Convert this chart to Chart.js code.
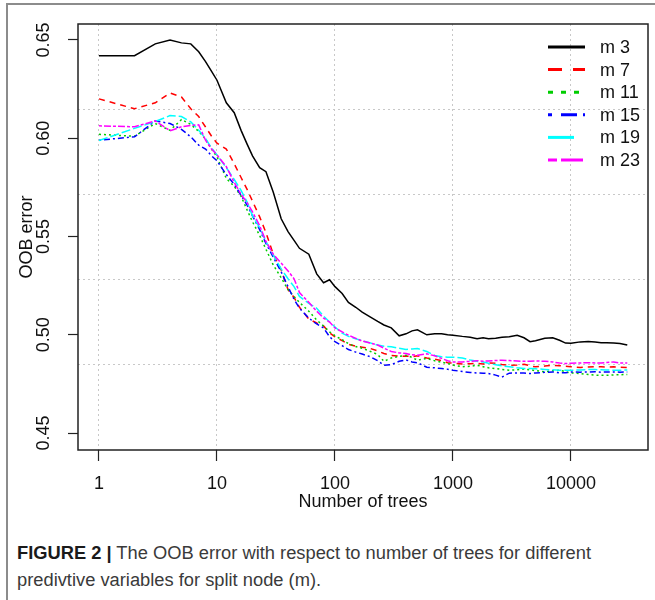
<!DOCTYPE html>
<html>
<head>
<meta charset="utf-8">
<script src="https://cdn.jsdelivr.net/npm/chart.js@4.4.1/dist/chart.umd.min.js"></script>
<style>
  html, body { margin: 0; padding: 0; background: #fff; }
  #page { position: relative; width: 655px; height: 600px; overflow: hidden; background: #fff; }
  #frame { position: absolute; left: 6px; top: 3px; right: -10px; bottom: -10px;
           border-left: 2px solid #8c8c8c; border-top: 2px solid #8c8c8c; }
  #chart { position: absolute; left: 0; top: 0; }
  #caption { position: absolute; left: 17px; top: 540px; font-family: "Liberation Sans", Arial, sans-serif;
             font-size: 18px; line-height: 27px; color: #3a3a3a; white-space: nowrap; transform-origin: 0 0; }
  #caption b { color: #1a1a1a; }
</style>
</head>
<body>
<div id="page">
  <div id="frame"></div>
  <canvas id="chart" width="655" height="520"></canvas>
  <div id="caption">
    <div><span id="capLine1"><b>FIGURE 2 |</b> The OOB error with respect to number of trees for different</span></div>
    <div>predivtive variables for split node (m).</div>
  </div>
</div>
<script>
// number of trees (x), shared by every series
const trees = [1, 2, 3, 4, 5, 6, 7, 8, 9, 10,
  12, 14, 16, 18, 20, 23, 26, 30, 35, 40, 45, 50,
  60, 70, 80, 90, 100, 115, 130, 150, 170, 200, 230, 260, 300, 350, 400, 450, 500,
  600, 700, 800, 900, 1000, 1200, 1400, 1600, 1800, 2000, 2300, 2600, 3000, 3500, 4000, 4500, 5000,
  6000, 7000, 8000, 9000, 10000, 12000, 14000, 16000, 18000, 20000, 23000, 26000, 30000];

// OOB error per m
const m3 = [0.642, 0.642, 0.648, 0.650, 0.6485, 0.648, 0.644, 0.639, 0.634, 0.6295,
  0.618, 0.613, 0.604, 0.597, 0.591, 0.585, 0.583, 0.5725, 0.559, 0.5525, 0.548, 0.544,
  0.541, 0.531, 0.5265, 0.528, 0.5245, 0.521, 0.5165, 0.514, 0.5115, 0.509, 0.5068, 0.505, 0.5035, 0.4995, 0.5005, 0.502, 0.5025,
  0.500, 0.5005, 0.5005, 0.500, 0.4998, 0.4992, 0.4988, 0.498, 0.4985, 0.498, 0.4982, 0.4988, 0.499, 0.4998, 0.4985, 0.4965, 0.497,
  0.4982, 0.4985, 0.4972, 0.4958, 0.4957, 0.4964, 0.4966, 0.4963, 0.496, 0.4959, 0.4958, 0.4956, 0.4948];
const m7 = [0.620, 0.615, 0.618, 0.623, 0.621, 0.615, 0.611, 0.6057, 0.601, 0.5975,
  0.5945, 0.587, 0.580, 0.574, 0.568, 0.560, 0.552, 0.541, 0.533, 0.523, 0.519, 0.514,
  0.508, 0.506, 0.5045, 0.501, 0.499, 0.497, 0.4952, 0.4942, 0.4937, 0.493, 0.4918, 0.4905, 0.4895, 0.4891, 0.4892, 0.4888, 0.4893,
  0.4882, 0.4876, 0.4869, 0.4858, 0.4856, 0.4851, 0.4853, 0.4854, 0.4852, 0.4857, 0.4855, 0.4849, 0.4845, 0.4847, 0.485, 0.4842, 0.4837,
  0.4841, 0.4845, 0.4843, 0.484, 0.4838, 0.4834, 0.4836, 0.4838, 0.4837, 0.4836, 0.4837, 0.4835, 0.4834];
const m11 = [0.602, 0.601, 0.6075, 0.604, 0.6095, 0.607, 0.6035, 0.5995, 0.5945, 0.5905,
  0.5795, 0.5755, 0.5705, 0.5635, 0.5575, 0.5505, 0.5435, 0.5355, 0.529, 0.523, 0.5195, 0.5165,
  0.512, 0.5075, 0.5045, 0.5015, 0.4995, 0.4975, 0.4955, 0.494, 0.4932, 0.4915, 0.490, 0.4865, 0.4882, 0.489, 0.4896, 0.4885, 0.4871,
  0.488, 0.4868, 0.486, 0.4855, 0.4846, 0.4838, 0.484, 0.4845, 0.4838, 0.4832, 0.4828, 0.4824, 0.482, 0.4822, 0.4826, 0.4822, 0.4818,
  0.4812, 0.4817, 0.482, 0.4812, 0.4806, 0.4803, 0.4798, 0.4795, 0.4794, 0.4794, 0.4796, 0.4797, 0.4798];
const m15 = [0.599, 0.6007, 0.6088, 0.6075, 0.6045, 0.6007, 0.5965, 0.5945, 0.591, 0.5885,
  0.5815, 0.5765, 0.571, 0.566, 0.5605, 0.5535, 0.5465, 0.5395, 0.532, 0.5245, 0.518, 0.5135,
  0.5085, 0.5055, 0.5035, 0.499, 0.4965, 0.4945, 0.4925, 0.4912, 0.4902, 0.4888, 0.4868, 0.4845, 0.4848, 0.4865, 0.4872, 0.4862, 0.4858,
  0.4835, 0.4832, 0.4828, 0.4825, 0.482, 0.4813, 0.4808, 0.4806, 0.4805, 0.4803, 0.4795, 0.4785, 0.4805, 0.4806, 0.4806, 0.4803, 0.4806,
  0.4809, 0.4811, 0.4806, 0.4807, 0.4811, 0.481, 0.4811, 0.4812, 0.481, 0.4811, 0.4811, 0.481, 0.4811];
const m19 = [0.5988, 0.605, 0.6085, 0.6115, 0.611, 0.6083, 0.6041, 0.5998, 0.595, 0.5915,
  0.585, 0.579, 0.5735, 0.5675, 0.5605, 0.5545, 0.5475, 0.5405, 0.5335, 0.5285, 0.5245, 0.5195,
  0.516, 0.5135, 0.5095, 0.5065, 0.504, 0.5008, 0.4992, 0.498, 0.497, 0.4958, 0.4948, 0.4942, 0.4939, 0.4932, 0.4925, 0.4928, 0.493,
  0.4915, 0.4895, 0.4888, 0.4886, 0.4886, 0.4882, 0.4872, 0.4865, 0.4862, 0.4855, 0.4848, 0.4842, 0.4838, 0.4832, 0.4828, 0.4828, 0.4827,
  0.4824, 0.4822, 0.482, 0.482, 0.482, 0.4821, 0.4823, 0.4823, 0.4822, 0.4821, 0.482, 0.482, 0.4821];
const m23 = [0.6063, 0.6058, 0.6088, 0.6038, 0.6058, 0.6065, 0.6068, 0.599, 0.5945, 0.5915,
  0.5855, 0.5775, 0.5715, 0.5672, 0.5625, 0.5555, 0.5475, 0.541, 0.5365, 0.5325, 0.5285, 0.5215,
  0.5165, 0.512, 0.5085, 0.5065, 0.5035, 0.5015, 0.4998, 0.4982, 0.4968, 0.4958, 0.4948, 0.4932, 0.4915, 0.4908, 0.4905, 0.4898, 0.4896,
  0.4903, 0.4893, 0.488, 0.4868, 0.4862, 0.4862, 0.4865, 0.4868, 0.4866, 0.4867, 0.4869, 0.4871, 0.4869, 0.4867, 0.4865, 0.4866, 0.4867,
  0.4865, 0.4862, 0.4856, 0.4854, 0.4855, 0.4857, 0.4858, 0.4857, 0.4857, 0.4859, 0.4862, 0.4857, 0.4856];

const seriesNames = ['m 3', 'm 7', 'm 11', 'm 15', 'm 19', 'm 23'];
const seriesValues = [m3, m7, m11, m15, m19, m23];
const xTicks = [1, 10, 100, 1000, 10000];
const yTicks = [0.45, 0.50, 0.55, 0.60, 0.65];

const colors = ['#000000', '#ff0000', '#00cd00', '#0000ff', '#00ffff', '#ff00ff'];
const plotDash = [[], [6, 5], [2, 3], [2, 3, 6, 3], [9, 3], [3, 2, 7, 2]];
const legendDash = [[], [14, 11], [5, 8], [4, 9, 16, 6], [26, 11], [9, 4, 22, 4]];

const FONT = '"Liberation Sans", Arial, sans-serif';
const $ = id => document.getElementById(id);

// fit the caption's first line to the width in the figure
const cap = $('caption');
const w = $('capLine1').getBoundingClientRect().width;
cap.style.transform = 'scaleX(' + (574 / w) + ')';

// R style box round the plot region
const boxPlugin = {
  id: 'box',
  afterDatasetsDraw(chart) {
    const a = chart.chartArea, ctx = chart.ctx;
    ctx.save();
    ctx.strokeStyle = '#222';
    ctx.lineWidth = 1.5;
    ctx.strokeRect(a.left, a.top, a.right - a.left, a.bottom - a.top);
    ctx.restore();
  }
};

// legend drawn inside the plot, top right, without a box
const legendPlugin = {
  id: 'rLegend',
  afterDraw(chart) {
    const a = chart.chartArea, ctx = chart.ctx;
    ctx.save();
    ctx.font = '18px ' + FONT;
    ctx.textBaseline = 'middle';
    ctx.fillStyle = '#111';
    chart.data.datasets.forEach((ds, i) => {
      const y = a.top + 23 + i * 22.6;
      ctx.beginPath();
      ctx.setLineDash(legendDash[i]);
      ctx.strokeStyle = ds.borderColor;
      ctx.lineWidth = 3;
      ctx.moveTo(a.right - 100, y);
      ctx.lineTo(a.right - 63, y);
      ctx.stroke();
      ctx.setLineDash([]);
      ctx.fillText(ds.label, a.right - 48, y + 1);
    });
    ctx.restore();
  }
};

new Chart($('chart'), {
  type: 'line',
  data: {
    datasets: seriesNames.map((name, i) => ({
      label: name,
      data: trees.map((t, j) => ({ x: t, y: seriesValues[i][j] })),
      borderColor: colors[i],
      borderDash: plotDash[i],
      borderWidth: 1.5,
      pointRadius: 0,
      fill: false,
      tension: 0,
      order: 6 - i
    }))
  },
  options: {
    responsive: false,
    animation: false,
    devicePixelRatio: 1,
    layout: { padding: { left: 0, top: 24, right: 7, bottom: 0 } },
    plugins: { legend: { display: false }, tooltip: { enabled: false } },
    scales: {
      x: {
        type: 'logarithmic',
        min: 0.664,
        max: 44950,
        afterBuildTicks: s => { s.ticks = xTicks.map(v => ({ value: v })); },
        afterFit: s => { s.height = 70; },
        ticks: { autoSkip: false, maxRotation: 0, padding: 12, color: '#111',
                 font: { family: FONT, size: 18 }, callback: v => String(v) },
        grid: { color: '#c8c8c8', lineWidth: 1, tickLength: 11, tickColor: '#222', tickWidth: 1.2, tickBorderDash: [] },
        border: { display: false, dash: [2, 3] },
        title: { display: true, text: 'Number of trees', color: '#111',
                 font: { family: FONT, size: 18, lineHeight: 1 }, padding: { top: 0, bottom: 9 } }
      },
      y: {
        type: 'linear',
        position: 'left',
        min: 0.4414,
        max: 0.6581,
        afterBuildTicks: s => { s.ticks = yTicks.map(v => ({ value: v })); },
        afterFit: s => { s.width = 78; },
        ticks: { minRotation: 90, maxRotation: 90, crossAlign: 'center', padding: 6, color: '#111',
                 font: { family: FONT, size: 18 }, callback: v => v.toFixed(2) },
        grid: { drawOnChartArea: false, tickLength: 10, tickColor: '#222', tickWidth: 1.2 },
        border: { display: false },
        title: { display: true, text: 'OOB error', color: '#111',
                 font: { family: FONT, size: 18, lineHeight: 1 }, padding: { top: 18, bottom: 0 } }
      },
      // dotted grid that splits the plot height into five equal parts
      yGrid: {
        type: 'linear',
        position: 'right',
        min: 0,
        max: 5,
        afterBuildTicks: s => { s.ticks = [1, 2, 3, 4].map(v => ({ value: v })); },
        afterFit: s => { s.width = 0; },
        ticks: { display: false },
        grid: { color: '#c8c8c8', lineWidth: 1, drawTicks: false },
        border: { display: false, dash: [2, 3] }
      }
    }
  },
  plugins: [boxPlugin, legendPlugin]
});
</script>
</body>
</html>
